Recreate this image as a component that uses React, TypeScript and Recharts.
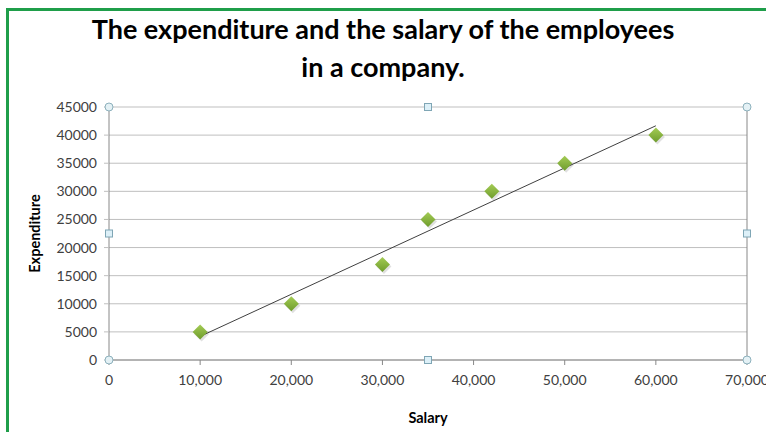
import {
  ScatterChart,
  Scatter,
  XAxis,
  YAxis,
  CartesianGrid,
  ReferenceLine,
  ReferenceDot,
  Label,
} from "recharts";

const salary = [10000, 20000, 30000, 35000, 42000, 50000, 60000];
const expenditure = [5000, 10000, 17000, 25000, 30000, 35000, 40000];
const xTicks = [0, 10000, 20000, 30000, 40000, 50000, 60000, 70000];
const yTicks = [0, 5000, 10000, 15000, 20000, 25000, 30000, 35000, 40000, 45000];

const points = salary.map((x, i) => ({ x, y: expenditure[i] }));

// linear trendline (least squares) over the points
const n = points.length;
const mx = salary.reduce((a, b) => a + b, 0) / n;
const my = expenditure.reduce((a, b) => a + b, 0) / n;
const sxy = points.reduce((s, p) => s + (p.x - mx) * (p.y - my), 0);
const sxx = points.reduce((s, p) => s + (p.x - mx) ** 2, 0);
const slope = sxy / sxx;
const icpt = my - slope * mx;
const trend = [salary[0], salary[n - 1]].map((x) => ({ x, y: icpt + slope * x }));

const Diamond = (props: any) => {
  const { cx, cy } = props;
  const r = 7.5;
  return (
    <g>
      <path
        d={`M${cx + 1.5},${cy - r + 2} L${cx + r + 1.5},${cy + 2} L${cx + 1.5},${cy + r + 2} L${cx - r + 1.5},${cy + 2} Z`}
        fill="#000"
        opacity={0.12}
      />
      <path
        d={`M${cx},${cy - r} L${cx + r},${cy} L${cx},${cy + r} L${cx - r},${cy} Z`}
        fill="url(#dia)"
      />
    </g>
  );
};

const Handle = (props: any) => {
  const { cx, cy, square } = props;
  if (square)
    return <rect x={cx - 3.5} y={cy - 3.5} width={7} height={7} fill="#DDF0F8" stroke="#7FA6B5" strokeWidth={1} />;
  return <circle cx={cx} cy={cy} r={4} fill="#E4F1F5" stroke="#8DB1BD" strokeWidth={1} />;
};

const tickStyle = { fill: "#404040", fontSize: 14, fontFamily: "Lato" };
const titleStyle = { fontWeight: 700, fontSize: 14.5, fill: "#000", fontFamily: "Lato" };

export default function App() {
  return (
    <div style={{ position: "absolute", left: 0, top: 0, width: 766, height: 432, background: "#fff", overflow: "hidden", fontFamily: "Lato" }}>
      <div
        style={{
          position: "absolute",
          left: 6,
          top: 8,
          width: 900,
          height: 600,
          borderLeft: "3px solid #1F9E4A",
          borderTop: "3px solid #1F9E4A",
        }}
      />
      <div
        style={{
          position: "absolute",
          left: 0,
          top: 10,
          width: 766,
          textAlign: "center",
          fontFamily: "Lato",
          fontWeight: 700,
          fontSize: 27,
          lineHeight: "38px",
          color: "#000",
        }}
      >
        The expenditure and the salary of the employees
        <br />
        in a company.
      </div>
      <div style={{ position: "absolute", left: 0, top: 0 }}>
        <ScatterChart width={766} height={432} margin={{ top: 107, right: 19, bottom: 42, left: 49 }}>
          <defs>
            <linearGradient id="dia" x1="0" y1="0" x2="0" y2="1">
              <stop offset="0%" stopColor="#A4CC55" />
              <stop offset="100%" stopColor="#6E9C2C" />
            </linearGradient>
          </defs>
          <CartesianGrid horizontal vertical={false} stroke="#BFBFBF" />
          <XAxis
            type="number"
            dataKey="x"
            domain={[0, 70000]}
            ticks={xTicks}
            interval={0}
            tickFormatter={(v: number) => v.toLocaleString("en-US")}
            tick={tickStyle}
            tickLine={{ stroke: "#888" }}
            tickSize={5}
            tickMargin={10}
            axisLine={{ stroke: "#888" }}
            height={30}
          >
            <Label value="Salary" position="bottom" offset={23} style={titleStyle} />
          </XAxis>
          <YAxis
            type="number"
            dataKey="y"
            domain={[0, 45000]}
            ticks={yTicks}
            interval={0}
            tick={tickStyle}
            tickLine={{ stroke: "#BFBFBF" }}
            tickSize={5}
            tickMargin={7}
            axisLine={{ stroke: "#888" }}
            width={60}
          >
            <Label
              value="Expenditure"
              angle={-90}
              position="left"
              offset={14}
              style={{ ...titleStyle, textAnchor: "middle" }}
            />
          </YAxis>
          <ReferenceLine x={70000} stroke="#888" />
          <Scatter data={trend} line={{ stroke: "#404040", strokeWidth: 1 }} shape={() => null} isAnimationActive={false} />
          <Scatter data={points} shape={Diamond} isAnimationActive={false} />
          <ReferenceDot x={0} y={45000} shape={<Handle />} />
          <ReferenceDot x={70000} y={45000} shape={<Handle />} />
          <ReferenceDot x={0} y={0} shape={<Handle />} />
          <ReferenceDot x={70000} y={0} shape={<Handle />} />
          <ReferenceDot x={35000} y={45000} shape={<Handle square />} />
          <ReferenceDot x={35000} y={0} shape={<Handle square />} />
          <ReferenceDot x={0} y={22500} shape={<Handle square />} />
          <ReferenceDot x={70000} y={22500} shape={<Handle square />} />
        </ScatterChart>
      </div>
    </div>
  );
}
